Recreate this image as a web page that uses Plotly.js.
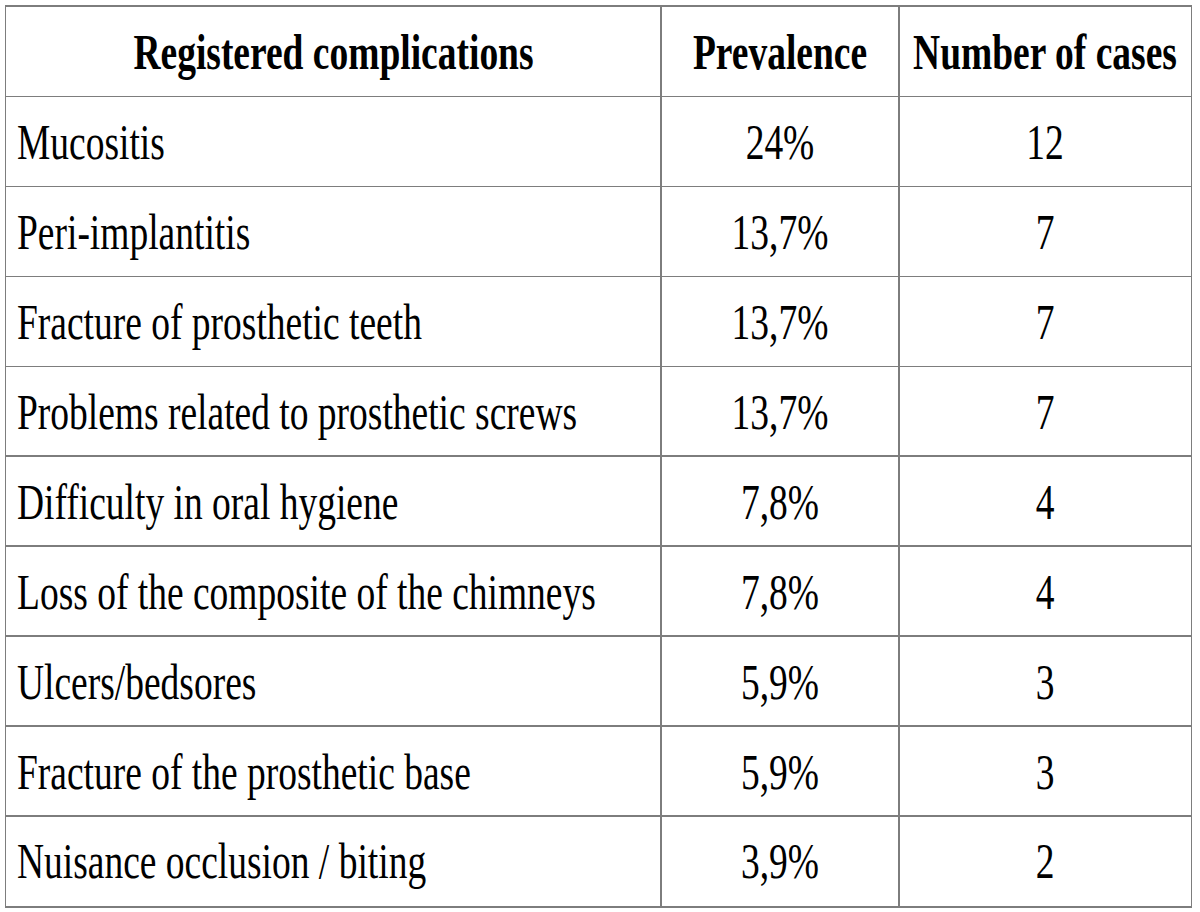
<!DOCTYPE html>
<html>
<head>
<meta charset="utf-8">
<script src="https://cdn.plot.ly/plotly-3.0.1.min.js"></script>
<style>
  html, body { margin: 0; padding: 0; background: #ffffff; overflow: hidden; }
  #wrap { width: 1200px; height: 912px; overflow: hidden; }
  #chart { transform-origin: 0 0; }
</style>
</head>
<body>
<div id="wrap"><div id="chart"></div></div>
<script>
// ---- data ----
const headers = ['Registered complications', 'Prevalence', 'Number of cases'];
const categories = [
  'Mucositis',
  'Peri-implantitis',
  'Fracture of prosthetic teeth',
  'Problems related to prosthetic screws',
  'Difficulty in oral hygiene',
  'Loss of the composite of the chimneys',
  'Ulcers/bedsores',
  'Fracture of the prosthetic base',
  'Nuisance occlusion / biting'
];
const prevalence = ['24%', '13,7%', '13,7%', '13,7%', '7,8%', '7,8%', '5,9%', '5,9%', '3,9%'];
const cases = [12, 7, 7, 7, 4, 4, 3, 3, 2];

// ---- layout constants ----
const STRETCH = 1.35;          // vertical stretch of the original (condensed look)
const colWidths = [655, 238, 292];
const totalW = colWidths.reduce((a, b) => a + b, 0);
const bounds = [0];
colWidths.forEach(w => bounds.push(bounds[bounds.length - 1] + w));
const centers = colWidths.map((w, i) => bounds[i] + w / 2);
const textPad = 11;
const textShift = 0.055;       // nudge text down inside rows (in row units)
const fontFamily = 'Liberation Serif';
const fontSize = 37.5;
const gridColor = '#7d7d7d';

const rowKeys = [headers[0]].concat(categories);

const W = 1200, H = 912 / STRETCH;
const chart = document.getElementById('chart');
chart.style.transform = 'scaleY(' + STRETCH + ')';

function textTrace(x, y, text, pos, bold) {
  return {
    type: 'scatter', mode: 'text', yaxis: 'y2',
    x: x, y: y, text: text, textposition: pos,
    textfont: { family: fontFamily, size: fontSize, color: '#000', weight: bold ? 'bold' : 'normal' },
    hoverinfo: 'skip', showlegend: false, cliponaxis: false
  };
}

const traces = [
  // invisible anchor so the grid subplot (x, y) is built
  { type: 'scatter', mode: 'none', x: centers, y: headers.map(() => headers[0]),
    hoverinfo: 'skip', showlegend: false },
  textTrace(centers, headers.map(() => headers[0]), headers, 'middle center', true),
  textTrace(categories.map(() => bounds[0] + textPad), categories, categories, 'middle right', false),
  textTrace(categories.map(() => centers[1]), categories, prevalence, 'middle center', false),
  textTrace(categories.map(() => centers[2]), categories, cases.map(String), 'middle center', false)
];

const catAxis = {
  type: 'category', categoryorder: 'array', categoryarray: rowKeys,
  fixedrange: true, showticklabels: false, ticks: '', zeroline: false
};

const layout = {
  width: W, height: H,
  font: { family: fontFamily },
  margin: { l: 6, r: 1200 - 6 - totalW, t: 7 / STRETCH, b: 7 / STRETCH, pad: 0 },
  paper_bgcolor: '#ffffff', plot_bgcolor: '#ffffff',
  showlegend: false,
  xaxis: {
    type: 'linear', range: [bounds[0], bounds[3]], fixedrange: true,
    tickmode: 'array', tickvals: bounds.slice(1, 3), showticklabels: false, ticks: '',
    showgrid: true, gridcolor: gridColor, gridwidth: 1.4, zeroline: false,
    showline: true, mirror: true, linecolor: gridColor, linewidth: 1.4
  },
  yaxis: Object.assign({}, catAxis, {
    range: [rowKeys.length - 0.5, -0.5],
    tickson: 'boundaries',
    showgrid: true, gridcolor: gridColor, gridwidth: 1.2,
    showline: true, mirror: true, linecolor: gridColor, linewidth: 1.2
  }),
  yaxis2: Object.assign({}, catAxis, {
    overlaying: 'y',
    range: [rowKeys.length - 0.5 - textShift, -0.5 - textShift],
    showgrid: false, showline: false
  })
};

Plotly.newPlot(chart, traces, layout, { staticPlot: true, displayModeBar: false });
</script>
</body>
</html>
